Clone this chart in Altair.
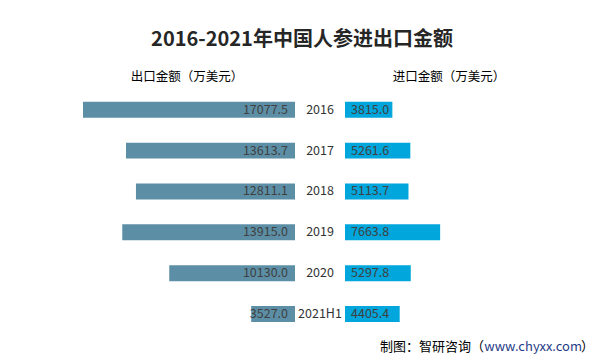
import altair as alt
import pandas as pd

# ---- data ----
years = ["2016", "2017", "2018", "2019", "2020", "2021H1"]
exports = [17077.5, 13613.7, 12811.1, 13915.0, 10130.0, 3527.0]   # 出口金额（万美元）
imports = [3815.0, 5261.6, 5113.7, 7663.8, 5297.8, 4405.4]        # 进口金额（万美元）

title_text = "2016-2021年中国人参进出口金额"
left_header = "出口金额（万美元）"
right_header = "进口金额（万美元）"
footer_parts = ["制图：智研咨询（", "www.chyxx.com", "）"]

df = pd.DataFrame({"year": years, "export": exports, "import": imports})

FONT = "Microsoft YaHei, Noto Sans CJK SC"
LEFT_COLOR = "#5C8FA6"
RIGHT_COLOR = "#00A6DC"
MAXV = 17077.5

W, H = 589, 348

yenc = alt.Y(
    "year:N",
    sort=years,
    axis=None,
    scale=alt.Scale(range=[81.3, 326.5], paddingInner=0.61, paddingOuter=0.305),
)

base = alt.Chart(df)

left_bar = base.mark_bar(color=LEFT_COLOR).encode(
    x=alt.X("export:Q", axis=None, scale=alt.Scale(domain=[0, MAXV], range=[287, 75])),
    x2=alt.datum(0),
    y=yenc,
)
right_bar = base.mark_bar(color=RIGHT_COLOR).encode(
    x=alt.X("import:Q", axis=None, scale=alt.Scale(domain=[0, MAXV], range=[337, 549])),
    x2=alt.datum(0),
    y=yenc,
)

left_text = base.mark_text(
    align="right", baseline="middle", font=FONT, fontSize=12.5, color="#404040"
).encode(x=alt.value(280), y=yenc, text=alt.Text("export:Q", format=".1f"))

right_text = base.mark_text(
    align="left", baseline="middle", font=FONT, fontSize=12.5, color="#404040"
).encode(x=alt.value(343), y=yenc, text=alt.Text("import:Q", format=".1f"))

year_text = base.mark_text(
    align="center", baseline="middle", font=FONT, fontSize=12.5, color="#333333"
).encode(x=alt.value(312), y=yenc, text="year:N")

title = alt.Chart(pd.DataFrame({"t": [title_text]})).mark_text(
    align="center", baseline="middle", font=FONT, fontSize=20, fontWeight="bold", color="#262626"
).encode(x=alt.value(294), y=alt.value(32), text="t:N")

hdr_left = alt.Chart(pd.DataFrame({"t": [left_header]})).mark_text(
    align="center", baseline="middle", font=FONT, fontSize=12.5, color="#000000"
).encode(x=alt.value(179), y=alt.value(69), text="t:N")
hdr_right = alt.Chart(pd.DataFrame({"t": [right_header]})).mark_text(
    align="center", baseline="middle", font=FONT, fontSize=12.5, color="#000000"
).encode(x=alt.value(441), y=alt.value(69), text="t:N")

FY = 339
foot3 = alt.Chart(pd.DataFrame({"t": [footer_parts[2]]})).mark_text(
    align="right", baseline="middle", font=FONT, fontSize=13, color="#000000"
).encode(x=alt.value(586), y=alt.value(FY), text="t:N")
foot2 = alt.Chart(pd.DataFrame({"t": [footer_parts[1]]})).mark_text(
    align="right", baseline="middle", font=FONT, fontSize=13, color="#1F3C88"
).encode(x=alt.value(574), y=alt.value(FY), text="t:N")
foot1 = alt.Chart(pd.DataFrame({"t": [footer_parts[0]]})).mark_text(
    align="right", baseline="middle", font=FONT, fontSize=13, color="#000000"
).encode(x=alt.value(476), y=alt.value(FY), text="t:N")

chart = (
    alt.layer(
        left_bar, right_bar, left_text, right_text, year_text,
        title, hdr_left, hdr_right, foot1, foot2, foot3,
    )
    .resolve_scale(x="independent")
    .properties(width=W, height=H, autosize=alt.AutoSizeParams(type="none"), padding=0)
    .configure_view(stroke=None)
)

chart.save("out.html", embed_options={"renderer": "svg", "actions": False})
